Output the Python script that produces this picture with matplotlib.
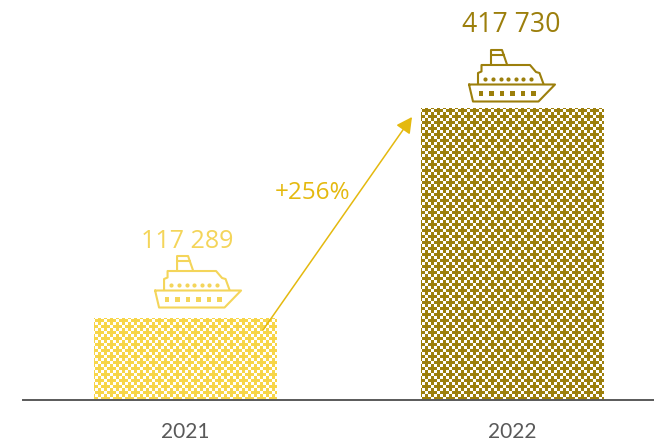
import numpy as np
import matplotlib
matplotlib.use("Agg")
import matplotlib.pyplot as plt
from matplotlib.path import Path
from matplotlib.patches import PathPatch, Rectangle
from matplotlib.transforms import Affine2D

years = ["2021", "2022"]
values = [117289, 417730]
value_labels = ["117 289", "417 730"]
change_label = "+256%"

bar_colors = ["#F7D548", "#9C7F0C"]
label_colors = ["#F4D55A", "#9C7F0C"]
arrow_color = "#E4B90F"
text_gray = "#595959"

W, H = 654, 441

plt.rcParams["font.family"] = ["Open Sans", "DejaVu Sans"]

fig = plt.figure(figsize=(W / 100, H / 100), dpi=100)
ax = fig.add_axes([23 / W, (H - 400) / H, (W - 23) / W, 400 / H])
ax.set_xlim(-0.498, 1.435)
ax.set_ylim(0, 400 / 292 * max(values))
ax.set_autoscale_on(False)

for s in ["top", "left", "right"]:
    ax.spines[s].set_visible(False)
ax.spines["bottom"].set_color(text_gray)
ax.spines["bottom"].set_linewidth(1.4)
ax.set_yticks([])
ax.set_xticks(range(len(years)))
ax.set_xticklabels(years, fontsize=15, color=text_gray, family=["Lato", "DejaVu Sans"])
ax.tick_params(axis="x", length=0, pad=15.5)

bars = ax.bar(range(len(years)), values, width=0.56, color="none")


def pattern(w, h):
    # staggered plus shapes on a 12 px tile, 1 = ink
    tile = np.zeros((12, 12), dtype=int)
    for cx, cy in [(5, 2), (11, 8)]:
        for yy in range(12):
            for xx in range(12):
                dx = min((xx - cx) % 12, (cx - xx) % 12)
                dy = min((yy - cy) % 12, (cy - yy) % 12)
                if (dx <= 1 and dy <= 4) or (dy <= 1 and dx <= 4):
                    tile[yy, xx] = 1
    return np.tile(tile, (h // 12 + 1, w // 12 + 1))[:h, :w]


# bars get their texture from an image clipped to the bar
for bar, col in zip(bars, bar_colors):
    x0, y0, bw, bh = bar.get_bbox().bounds
    ext = bar.get_window_extent(fig.canvas.get_renderer())
    mask = pattern(int(round(ext.width)), int(round(ext.height)))
    rgb = np.array(matplotlib.colors.to_rgb(col))
    img = np.ones(mask.shape + (3,))
    img[mask == 1] = rgb
    ax.imshow(img, extent=(x0, x0 + bw, y0, y0 + bh), aspect="auto",
              interpolation="nearest", zorder=1)
ax.set_xlim(-0.498, 1.435)
ax.set_ylim(0, 400 / 292 * max(values))


def draw_ship(cx, bottom, col):
    # ship outline in px, origin at the keel centre, y going up
    trans = Affine2D().translate(cx, bottom)
    outlines = [
        [(-43, 17.5), (43, 17.5), (26.5, 0.5), (-39, 0.5), (-43, 17.5)],
        [(-34, 18), (-34, 29), (-30.5, 30.5), (-30.5, 37), (18, 37),
         (24, 30), (27.5, 29), (31.5, 18)],
        [(-21, 37.5), (-21, 52), (-10, 52), (-5, 37.5)],
        [(-21, 47), (-8.5, 47)],
    ]
    for pts in outlines:
        ax.add_patch(PathPatch(Path(pts), fill=False, ec=col, lw=1.5, transform=trans,
                               joinstyle="round", capstyle="round", clip_on=False, zorder=3))
    for dx in [-27, -19.5, -11.5, -4, 3.5, 11, 19]:
        ax.plot([cx + dx], [bottom + 23], marker="o", ms=3.0, mfc=col, mec=col, mew=0,
                transform=Affine2D(), clip_on=False, zorder=3)
    for dx in [-31, -20.5, -10, 0.5, 11, 21.5]:
        ax.add_patch(Rectangle((cx + dx - 2.4, bottom + 6.3), 4.8, 4.8, fc=col, ec="none",
                               transform=Affine2D(), clip_on=False, zorder=3))


ship_dx = [12.5, 0]
ship_gap = [10, 6]
label_gap = [70, 76]
label_dx = [2, -1]
label_size = [18, 19.2]
for i, v in enumerate(values):
    px, py = ax.transData.transform((i, v))
    draw_ship(px + ship_dx[i], py + ship_gap[i], label_colors[i])
    ax.annotate(value_labels[i], (i, v), xytext=(label_dx[i] * 0.72, label_gap[i] * 0.72),
                textcoords="offset points", ha="center", va="baseline",
                fontsize=label_size[i], color=label_colors[i])

ax.annotate("", xy=(412, H - 117), xytext=(263, H - 330),
            xycoords="figure pixels", textcoords="figure pixels",
            arrowprops=dict(arrowstyle="-|>,head_length=0.95,head_width=0.5", color=arrow_color,
                            lw=1.1, shrinkA=0, shrinkB=0), zorder=4)
fig.text(313 / W, (H - 193) / H, change_label, ha="center", va="center",
         fontsize=17.5, color=arrow_color)

fig.savefig("out.png", dpi=100)
